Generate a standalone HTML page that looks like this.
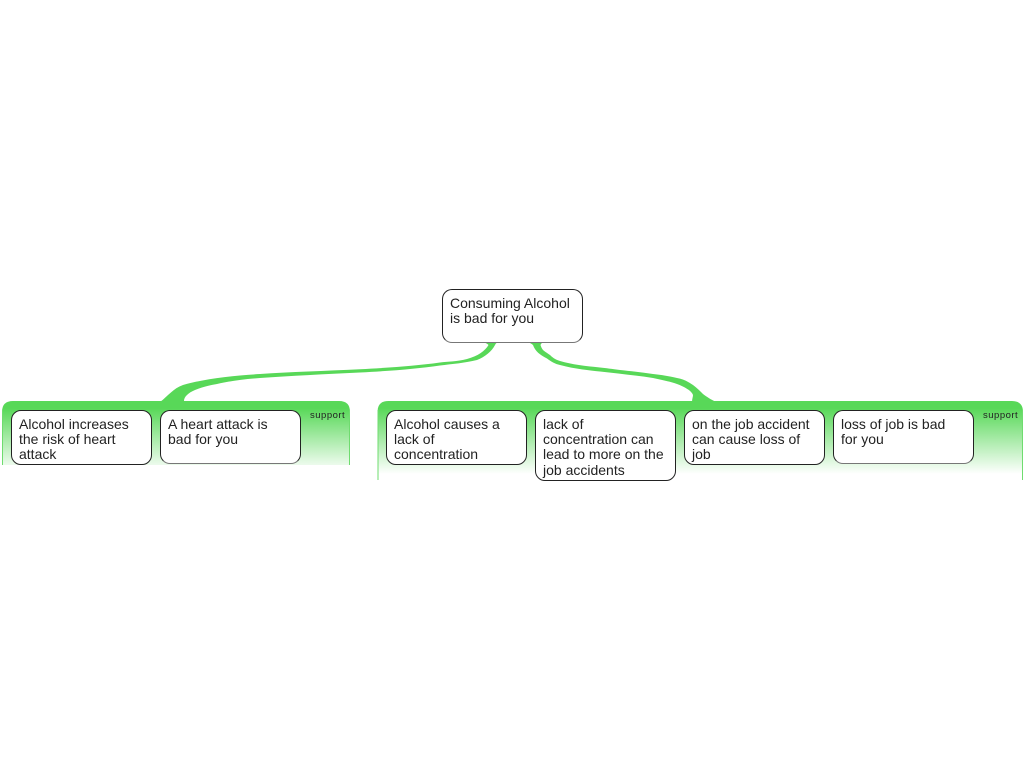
<!DOCTYPE html>
<html>
<head>
<meta charset="utf-8">
<style>
html,body{margin:0;padding:0;background:#fff;width:1024px;height:768px;overflow:hidden;}
body{position:relative;font-family:"Liberation Sans",sans-serif;}
svg{position:absolute;left:0;top:0;}
.n{position:absolute;box-sizing:border-box;width:141px;background:#fff;border:1px solid #222;border-radius:10px;padding:5.6px 0 0 7px;font-size:14px;line-height:15.4px;color:#222;white-space:nowrap;}
.g{border-bottom-color:#777;}
.s{position:absolute;font-size:9.5px;font-weight:normal;letter-spacing:.5px;color:#222;line-height:11px;}
</style>
</head>
<body>
<svg width="1024" height="768" viewBox="0 0 1024 768">
<defs>
<linearGradient id="a" gradientUnits="userSpaceOnUse" x1="0" y1="408" x2="0" y2="472">
<stop offset="0" stop-color="#58d858"/>
<stop offset="1" stop-color="#fff"/>
</linearGradient>
<linearGradient id="b" gradientUnits="userSpaceOnUse" x1="0" y1="408" x2="0" y2="474">
<stop offset="0" stop-color="#58d858"/>
<stop offset="1" stop-color="#fff"/>
</linearGradient>
</defs>
<path d="M2 465V412Q2 401 13 401H339Q350 401 350 412V465Z" fill="url(#a)"/>
<path d="M377.500 480V412Q377.500 401 388.500 401H1012Q1023 401 1023 412V480Z" fill="url(#b)"/>
<path d="M2.500 465V410M349.500 465V410M378 480V410M1022.500 480V410" stroke="#6fdc6f" stroke-width="1" fill="none"/>
<path d="M482 342Q487 343 488.500 345C485 351 478 356 467 359C457 361.500 448 361.500 440 362.500C415 366 390 367.500 360 369.300C325 371 290 372 260 374C235 375.500 205 378.500 183 385C173 388.500 168 396 160 402L184 402C183.500 397 188 393 195 390C205 386 212 385 217 384C230 381 245 379 260 378C290 376 325 374 360 372.500C390 371 415 369 440 365.500C452 364 465 363 477 360C485 357 492 351 495 345Q496 343 498 342Z" fill="#58d858"/>
<path d="M527 342Q531 343 533 345C535 351 540 355 547 358.500C551 361.500 555 364 560 365C575 369 590 370.500 600 371.500C618 373.500 636 375.500 653 378C662 380 670 381.500 677 384C684 386.500 692 391 693 395C693 397 692 399 692 402L716 402C710 399 707 397 703 394C700 391 697 388 693 385C688 381.500 683 379 677 378C668 376 662 375 653 374C642 372.500 630 371 620 370C612 369 606 368 600 367.500C585 366 572 364.500 560 361C555 359.500 552 357 550 355C547 353 544 351 543 350C541.500 348 541 346.500 540.500 345Q541 343 544 342Z" fill="#58d858"/>
</svg>
<div class="n g" style="left:442px;top:289px;height:53.500px;">Consuming Alcohol<br>is bad for you</div>
<div class="n" style="left:11px;top:410px;height:55px;">Alcohol increases<br>the risk of heart<br>attack</div>
<div class="n g" style="left:160px;top:410px;height:53.500px;">A heart attack is<br>bad for you</div>
<div class="n" style="left:386px;top:410px;height:55px;">Alcohol causes a<br>lack of<br>concentration</div>
<div class="n" style="left:535px;top:410px;height:71px;">lack of<br>concentration can<br>lead to more on the<br>job accidents</div>
<div class="n" style="left:684px;top:410px;height:55px;">on the job accident<br>can cause loss of<br>job</div>
<div class="n g" style="left:833px;top:410px;height:54px;">loss of job is bad<br>for you</div>
<div class="s" style="left:310px;top:410px;">support</div>
<div class="s" style="left:983px;top:410px;">support</div>
</body>
</html>
